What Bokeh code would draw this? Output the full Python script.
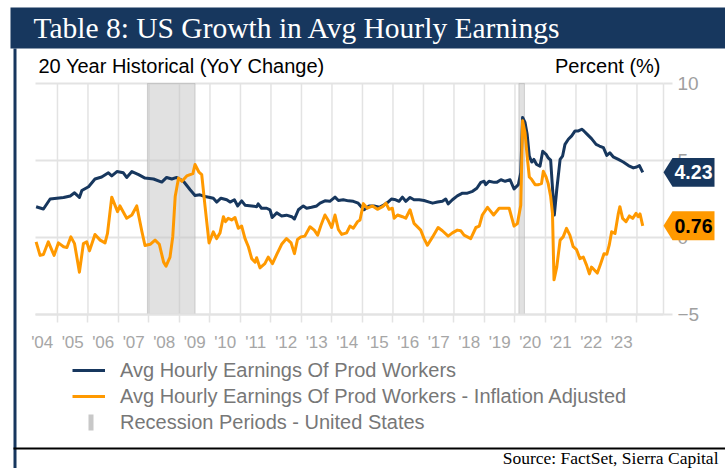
from bokeh.plotting import figure
from bokeh.models import (Range1d, FixedTicker, LinearAxis, Label, BoxAnnotation,
                          PolyAnnotation, Legend, LegendItem)
from bokeh.embed import file_html
from bokeh.resources import INLINE

# ---------------- data ----------------
TITLE = "Table 8: US Growth in Avg Hourly Earnings"
SUBTITLE = "20 Year Historical (YoY Change)"
UNIT = "Percent (%)"
SOURCE = "Source: FactSet, Sierra Capital"
SERIES_NAMES = ["Avg Hourly Earnings Of Prod Workers",
                "Avg Hourly Earnings Of Prod Workers - Inflation Adjusted",
                "Recession Periods - United States"]

year_labels = ["'04", "'05", "'06", "'07", "'08", "'09", "'10", "'11", "'12", "'13",
               "'14", "'15", "'16", "'17", "'18", "'19", "'20", "'21", "'22", "'23"]
label_pos = [2004.5, 2005.5, 2006.5, 2007.5, 2008.5, 2009.5, 2010.5, 2011.5, 2012.5, 2013.5,
             2014.5, 2015.5, 2016.5, 2017.5, 2018.5, 2019.5, 2020.5, 2021.5, 2022.5, 2023.5]
grid_years = [2005, 2006, 2007, 2008, 2009, 2010, 2011, 2012, 2013, 2014,
              2015, 2016, 2017, 2018, 2019, 2020, 2021, 2022, 2023, 2024]
y_ticks = [-5, 0, 5, 10]
X_MIN, X_MAX = 2004.28, 2024.87
Y_MIN, Y_MAX = -5, 10

recession_start = [2007.95, 2020.13]
recession_end = [2009.51, 2020.31]

nav_dates = [2004.30, 2004.54, 2004.76, 2004.98, 2005.20, 2005.42, 2005.56, 2005.72, 2005.80, 2006.02,
             2006.23, 2006.45, 2006.67, 2006.78, 2006.95, 2007.16, 2007.27, 2007.44, 2007.66, 2007.87,
             2008.15, 2008.42, 2008.58, 2008.75, 2008.91, 2009.13, 2009.35, 2009.51, 2009.67, 2009.84,
             2010.00, 2010.11, 2010.22, 2010.36, 2010.55, 2010.66, 2010.80, 2010.91, 2011.04, 2011.15,
             2011.37, 2011.53, 2011.58, 2011.69, 2011.86, 2011.97, 2012.04, 2012.19, 2012.35, 2012.51,
             2012.68, 2012.77, 2012.90, 2013.06, 2013.17, 2013.33, 2013.50, 2013.61, 2013.77, 2013.93,
             2014.10, 2014.21, 2014.37, 2014.54, 2014.70, 2014.86, 2014.96, 2015.05, 2015.22, 2015.38,
             2015.55, 2015.71, 2015.82, 2015.95, 2016.09, 2016.20, 2016.31, 2016.42, 2016.56, 2016.69,
             2016.86, 2017.02, 2017.19, 2017.30, 2017.46, 2017.62, 2017.73, 2017.81, 2017.95, 2018.11,
             2018.28, 2018.44, 2018.61, 2018.75, 2018.88, 2018.99, 2019.04, 2019.15, 2019.32, 2019.40,
             2019.54, 2019.68, 2019.84, 2019.97, 2020.11, 2020.19, 2020.25, 2020.33, 2020.40, 2020.47,
             2020.55, 2020.62, 2020.71, 2020.82, 2020.91, 2021.02, 2021.09, 2021.17, 2021.22, 2021.29,
             2021.37, 2021.48, 2021.56, 2021.64, 2021.75, 2021.86, 2021.97, 2022.08, 2022.19, 2022.26,
             2022.37, 2022.51, 2022.66, 2022.77, 2022.90, 2023.01, 2023.11, 2023.22, 2023.39, 2023.55,
             2023.72, 2023.88, 2023.99, 2024.08, 2024.19]
nav_vals = [2.00, 1.85, 2.50, 2.55, 2.60, 2.70, 2.90, 2.60, 3.05, 3.30,
            3.80, 3.93, 4.20, 4.00, 4.28, 4.20, 3.90, 4.28, 4.08, 3.86,
            3.80, 3.60, 3.90, 3.80, 3.90, 3.65, 3.10, 2.73, 2.77, 2.66,
            2.60, 2.55, 2.30, 2.55, 2.45, 2.30, 2.45, 2.05, 2.38, 2.10,
            2.05, 2.00, 2.18, 1.90, 1.90, 1.80, 1.30, 1.60, 1.40, 1.45,
            1.35, 1.20, 1.80, 2.05, 1.90, 1.96, 2.05, 2.23, 2.38, 2.35,
            2.62, 2.40, 2.45, 2.38, 2.35, 2.23, 2.00, 1.80, 2.05, 2.05,
            1.96, 2.12, 2.27, 2.50, 2.45, 2.35, 2.62, 2.35, 2.60, 2.45,
            2.45, 2.40, 2.30, 2.23, 2.30, 2.35, 2.50, 2.18, 2.45, 2.70,
            2.88, 2.88, 3.00, 3.20, 3.58, 3.65, 3.43, 3.65, 3.58, 3.58,
            3.75, 3.65, 3.75, 3.15, 3.43, 4.20, 7.80, 7.47, 6.70, 5.28,
            4.90, 5.07, 4.74, 4.63, 5.60, 5.40, 5.17, 5.02, 3.54, 1.46,
            3.10, 5.07, 5.28, 6.05, 6.38, 6.60, 6.92, 6.92, 7.03, 6.92,
            6.70, 6.42, 6.05, 5.94, 5.83, 5.33, 5.50, 5.24, 5.07, 4.90,
            4.67, 4.52, 4.58, 4.67, 4.23]

org_dates = [2004.30, 2004.43, 2004.54, 2004.70, 2004.89, 2005.03, 2005.20, 2005.31, 2005.44, 2005.56,
             2005.72, 2005.85, 2005.96, 2006.05, 2006.23, 2006.40, 2006.56, 2006.64, 2006.78, 2006.97,
             2007.05, 2007.27, 2007.44, 2007.60, 2007.77, 2007.87, 2008.04, 2008.20, 2008.34, 2008.48,
             2008.56, 2008.69, 2008.78, 2008.86, 2008.97, 2009.08, 2009.24, 2009.44, 2009.51, 2009.64,
             2009.73, 2009.84, 2009.97, 2010.11, 2010.22, 2010.33, 2010.44, 2010.51, 2010.60, 2010.71,
             2010.82, 2010.93, 2011.04, 2011.15, 2011.26, 2011.37, 2011.48, 2011.53, 2011.64, 2011.80,
             2011.91, 2012.05, 2012.19, 2012.35, 2012.51, 2012.66, 2012.77, 2012.87, 2012.98, 2013.11,
             2013.28, 2013.42, 2013.53, 2013.64, 2013.77, 2013.88, 2013.99, 2014.10, 2014.21, 2014.32,
             2014.48, 2014.59, 2014.70, 2014.84, 2014.92, 2015.03, 2015.16, 2015.33, 2015.49, 2015.66,
             2015.77, 2015.87, 2015.98, 2016.04, 2016.15, 2016.31, 2016.42, 2016.56, 2016.69, 2016.91,
             2017.02, 2017.13, 2017.30, 2017.48, 2017.62, 2017.81, 2017.95, 2018.11, 2018.22, 2018.33,
             2018.55, 2018.72, 2018.83, 2018.93, 2019.10, 2019.30, 2019.48, 2019.64, 2019.81, 2019.97,
             2020.08, 2020.19, 2020.25, 2020.33, 2020.40, 2020.47, 2020.55, 2020.66, 2020.77, 2020.87,
             2020.93, 2021.02, 2021.09, 2021.17, 2021.23, 2021.28, 2021.37, 2021.48, 2021.58, 2021.69,
             2021.80, 2021.91, 2022.02, 2022.13, 2022.24, 2022.35, 2022.44, 2022.51, 2022.62, 2022.70,
             2022.81, 2022.92, 2023.01, 2023.09, 2023.17, 2023.28, 2023.39, 2023.44, 2023.53, 2023.64,
             2023.75, 2023.86, 2023.97, 2024.04, 2024.10, 2024.19]
org_vals = [-0.28, -1.16, -1.10, -0.28, -1.16, -0.35, -0.60, -0.65, 0.04, -0.40,
            -2.25, -0.40, -0.28, -0.87, 0.20, -0.17, -0.35, 0.26, 2.62, 1.68,
            2.05, 1.25, 1.46, 2.05, 0.37, -0.52, -0.44, -0.17, -0.44, -1.60,
            -1.86, -1.27, 0.04, 2.66, 3.86, 3.65, 4.00, 4.15, 4.74, 4.24,
            4.08, 2.00, -0.35, 0.37, -0.07, 0.30, 1.35, 1.03, 1.25, 1.14,
            1.30, 0.60, 0.74, -0.07, -0.60, -1.38, -1.60, -1.31, -1.97, -1.70,
            -1.27, -1.70, -1.10, -0.44, -0.07, -0.35, -1.05, -0.13, 0.04, 0.09,
            0.70, 0.48, 0.15, 0.80, 1.46, 1.10, 0.65, 1.46, 0.52, 0.20,
            0.30, 0.74, 0.60, 1.03, 1.14, 2.20, 1.90, 2.05, 1.83, 2.00,
            2.23, 1.83, 1.90, 1.25, 1.46, 1.35, 1.25, 1.80, 0.92, 0.48,
            -0.07, -0.50, 0.04, 0.65, 0.44, 0.09, 0.30, 0.48, 0.44, 0.15,
            -0.07, 0.65, 0.74, 1.46, 1.96, 1.46, 1.90, 1.90, 1.90, 0.74,
            0.90, 2.10, 7.58, 6.80, 5.28, 3.93, 3.76, 3.43, 3.43, 3.50,
            4.30, 3.93, 3.50, 2.66, 1.57, -2.75, -1.92, -0.17, 0.04, 0.59,
            0.15, -0.60, -0.79, -1.37, -1.27, -1.81, -2.36, -1.92, -2.14, -2.31,
            -1.70, -1.05, -1.09, -0.50, 0.37, 0.26, 1.57, 2.00, 1.24, 1.03,
            1.40, 1.24, 1.57, 1.35, 1.53, 0.76]

# ---------------- layout / style ----------------
NAVY = "#17375E"
ORANGE = "#FF9900"
GRID = "#e3e3e3"
REC_GREY = "#c8c8c8"
W, H = 725, 468
FL, FR, FT, FB = 35, 663, 83, 314   # plot-area edges on the canvas (px)

# the frame is the whole canvas; ranges are widened so that the
# data window X_MIN..X_MAX / Y_MIN..Y_MAX lands on the plot area
sx = (FR - FL) / (X_MAX - X_MIN)
sy = (FB - FT) / (Y_MAX - Y_MIN)
x_range = Range1d(X_MIN - FL / sx, X_MAX + (W - FR) / sx)
y_range = Range1d(Y_MIN - (H - FB) / sy, Y_MAX + FT / sy)

p = figure(width=W, height=H, output_backend="svg", toolbar_location=None,
           x_range=x_range, y_range=y_range,
           x_axis_location=None, y_axis_location=None, min_border=0)
p.title.visible = False
p.background_fill_color = "white"
p.border_fill_color = "white"
p.outline_line_color = None
p.grid.visible = False

# grid lines limited to the data window
p.segment(x0=grid_years, x1=grid_years, y0=[Y_MIN] * len(grid_years), y1=[Y_MAX] * len(grid_years),
          line_color=GRID, line_width=1.5)
p.segment(x0=[X_MIN] * len(y_ticks), x1=[X_MAX] * len(y_ticks), y0=y_ticks, y1=y_ticks,
          line_color=GRID, line_width=2)

# axes drawn at fixed locations inside the canvas
xa = LinearAxis(fixed_location=Y_MIN, bounds=(X_MIN, X_MAX))
xa.ticker = FixedTicker(ticks=label_pos, minor_ticks=grid_years)
xa.major_label_overrides = {pos: lab for pos, lab in zip(label_pos, year_labels)}
xa.major_tick_line_color = None
xa.major_tick_out = 0
xa.major_tick_in = 0
xa.minor_tick_out = 8
xa.minor_tick_in = 0
xa.minor_tick_line_color = GRID
xa.minor_tick_line_width = 1.5
xa.axis_line_color = GRID
xa.axis_line_width = 2
xa.major_label_standoff = 10
xa.major_label_text_font = "Liberation Sans Narrow, Liberation Sans"
xa.major_label_text_font_size = "17px"
xa.major_label_text_color = "#a6a6a6"
p.add_layout(xa, "below")

ya = LinearAxis(fixed_location=X_MAX, bounds=(Y_MIN, Y_MAX))
ya.ticker = FixedTicker(ticks=y_ticks)
ya.major_tick_out = 9
ya.major_tick_in = 0
ya.major_tick_line_color = GRID
ya.major_tick_line_width = 2
ya.minor_tick_line_color = None
ya.axis_line_color = GRID
ya.axis_line_width = 1.5
ya.major_label_standoff = 5
ya.major_label_text_font = "Liberation Sans"
ya.major_label_text_font_size = "19px"
ya.major_label_text_color = "#a0a0a0"
p.add_layout(ya, "right")

# recession shading
r_rec = p.quad(left=recession_start, right=recession_end, bottom=Y_MIN, top=Y_MAX,
               fill_color="#c4c4c4", fill_alpha=0.5, line_color="#b5b5b5", line_alpha=0.6,
               line_width=1)

r_nav = p.line(nav_dates, nav_vals, line_color=NAVY, line_width=3, line_join="round")
r_org = p.line(org_dates, org_vals, line_color=ORANGE, line_width=3, line_join="round")

# invisible stand-in for the recession legend entry (its key is drawn below)
r_rec_key = p.scatter([float("nan")], [float("nan")], size=1, fill_alpha=0, line_alpha=0)

legend = Legend(items=[LegendItem(label=SERIES_NAMES[0], renderers=[r_nav]),
                       LegendItem(label=SERIES_NAMES[1], renderers=[r_org]),
                       LegendItem(label=SERIES_NAMES[2], renderers=[r_rec_key])],
                location=(72, 33), orientation="vertical",
                glyph_width=33, glyph_height=26, label_height=26, label_standoff=15,
                spacing=0, padding=0, margin=0, border_line_color=None,
                background_fill_alpha=0,
                label_text_font="Liberation Sans", label_text_font_size="20px",
                label_text_color="#777777")
p.add_layout(legend)

# ---------------- page decorations (canvas pixels) ----------------
def canvas_box(left, right, top, bottom, color):
    return BoxAnnotation(left=left, right=right, top=top, bottom=bottom,
                         left_units="canvas", right_units="canvas",
                         top_units="canvas", bottom_units="canvas",
                         fill_color=color, fill_alpha=1, line_color=None)

p.add_layout(canvas_box(10, W, 7, 48, NAVY))          # title band
p.add_layout(canvas_box(13, 16, 48, H, NAVY))         # left rule
p.add_layout(canvas_box(13, W, 447, 449, "black"))    # bottom rule
p.add_layout(canvas_box(88, 93, 414, 430, REC_GREY))  # recession legend key

p.add_layout(Label(x=33, y=27, x_units="canvas", y_units="canvas", text=TITLE,
                   text_font="Liberation Serif", text_font_size="29.5px",
                   text_color="white", text_baseline="middle"))
p.add_layout(Label(x=38, y=65, x_units="canvas", y_units="canvas", text=SUBTITLE,
                   text_font="Liberation Sans", text_font_size="20px",
                   text_color="black", text_baseline="middle"))
p.add_layout(Label(x=660, y=65, x_units="canvas", y_units="canvas", text=UNIT,
                   text_font="Liberation Sans", text_font_size="20px",
                   text_color="black", text_baseline="middle", text_align="right"))
p.add_layout(Label(x=718, y=457, x_units="canvas", y_units="canvas", text=SOURCE,
                   text_font="Liberation Serif", text_font_size="17.5px",
                   text_color="black", text_baseline="middle", text_align="right"))

# last-value badges
BADGE_HALF = 0.94   # half badge height in data units
for val, fill, txt_col in [(nav_vals[-1], NAVY, "white"), (org_vals[-1], ORANGE, "black")]:
    p.add_layout(PolyAnnotation(xs=[FR, FR + 9, FR + 51, FR + 51, FR + 9],
                                ys=[val, val + BADGE_HALF, val + BADGE_HALF,
                                    val - BADGE_HALF, val - BADGE_HALF],
                                xs_units="canvas", ys_units="data",
                                fill_color=fill, fill_alpha=1, line_color=None))
    p.add_layout(Label(x=FR + 30, y=val, x_units="canvas", y_units="data",
                       text=f"{val:.2f}", text_align="center", text_baseline="middle",
                       text_font="Liberation Sans", text_font_style="bold",
                       text_font_size="19.5px", text_color=txt_col))

open("out.html", "w").write(file_html(p, INLINE))
